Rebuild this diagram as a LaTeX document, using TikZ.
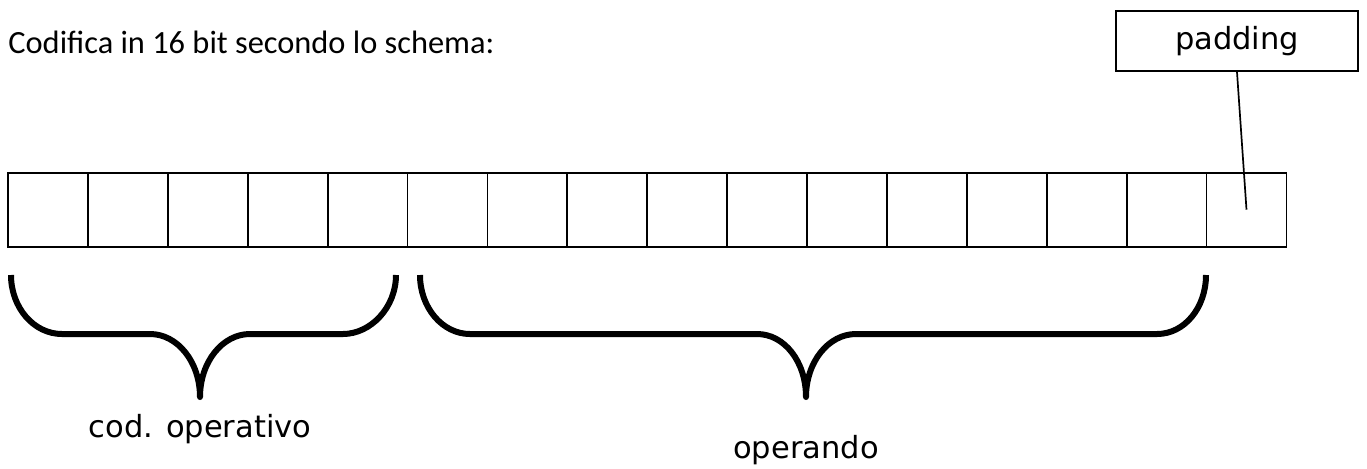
\documentclass[tikz,border=0pt]{standalone}
\usepackage{fontspec}
\setmainfont{Carlito}
\newfontfamily\labelfont{DejaVu Sans}

\tikzset{
    bitcell/.style={draw, line width=0.9pt, minimum width=39.95pt, minimum height=37pt, inner sep=0pt, outer sep=0pt},
    brace/.style={line width=3pt, line join=round},
    lbl/.style={font=\labelfont\fontsize{15.25pt}{18pt}\selectfont, inner sep=0pt}
}

\begin{document}
\begin{tikzpicture}[x=0.5pt, y=-0.5pt]
            \useasboundingbox (0,0) rectangle (1367,468);

            \node[anchor=base west, inner sep=0pt, font=\fontsize{16.2pt}{19pt}\selectfont] (title) at (8,53) {Codifica in 16 bit secondo lo schema:};

            \foreach \i in {1,...,16}
                \node[bitcell] (c\i) at ({48+79.9*(\i-1)},209.7) {};

            \node[draw, line width=1pt, minimum width=121pt, minimum height=30pt, lbl] (padding) at (1237,41) {padding};
            \draw[line width=0.85pt] (padding.south) -- (c16.center);

            \draw[brace] (11,275) .. controls (11,307.6) and (33.8,334) .. (62,334) -- (150,334)
                .. controls (177.6,334) and (200,362) .. (200,397) coordinate (tipA)
                .. controls (200,362) and (222.4,334) .. (250,334) -- (343,334)
                .. controls (370.6,334) and (396,307.6) .. (396,275);
            \draw[brace] (420,275) .. controls (420,307.6) and (442.4,334) .. (470,334) -- (757,334)
                .. controls (784.6,334) and (806,362) .. (806,397) coordinate (tipB)
                .. controls (806,362) and (828.4,334) .. (856,334) -- (1157,334)
                .. controls (1184.6,334) and (1206,307.6) .. (1206,275);

            \node[lbl, anchor=base] (codop) at (200,437) {cod. operativo};
            \node[lbl, anchor=base] (operando) at (806,458) {operando};
        \end{tikzpicture}
\end{document}
